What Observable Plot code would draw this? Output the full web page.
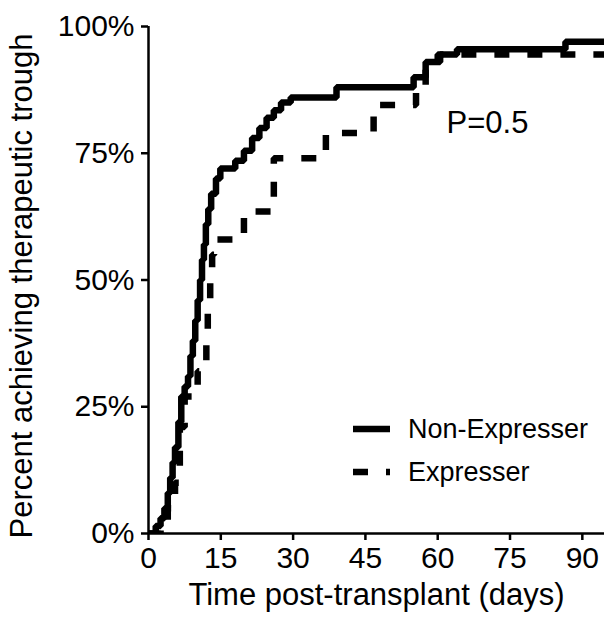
<!DOCTYPE html>
<html><head><meta charset="utf-8">
<script src="https://cdn.jsdelivr.net/npm/d3@7"></script>
<script src="https://cdn.jsdelivr.net/npm/@observablehq/plot@0.6"></script>
<style>
html,body{margin:0;padding:0;background:#fff;}
#chart svg{display:block;}
#chart g[aria-label="x-axis tick"] path, #chart g[aria-label="y-axis tick"] path {stroke-width:2.5px;}
</style></head><body><div id="chart"></div>
<script>
const seriesNames = ["Non-Expresser", "Expresser"];
const nonExpTime = [0,1.5,2.5,3.3,4,4.5,5,5.5,6.2,6.8,7.5,8.2,8.7,9.2,9.7,10.2,10.7,11.1,11.5,11.9,12.4,13,14,14.9,18,19.8,21.5,23,24.5,26,27.5,29.5,39,55,57.5,60.5,64,86.5,95];
const nonExpPct  = [0,1.5,3,5,8,11,14,17,22,27,29,31,35,38,42,46,50,54,57,61,64,67,70,72,73.5,75.5,78,80,82,83.5,85,86,88,90,93,94.5,95.5,97,97];
const expTime = [0,2.5,4,5.5,6.5,7.5,10.2,12,12.3,12.8,13.2,13.6,19.8,26,36.8,46.7,55.5,57.5,60,95];
const expPct  = [0,2,5,10,21,27,32,38,44,50,55,58,63.5,74,79,84.5,88,92,94.5,94.5];
const xTicks = [0,15,30,45,60,75,90];
const yTicks = [0,25,50,75,100];
const xTitle = "Time post-transplant (days)";
const yTitle = "Percent achieving therapeutic trough";
const pLabel = "P=0.5";

const nonExp = nonExpTime.map((t,i)=>({t, p: nonExpPct[i]}));
const exp = expTime.map((t,i)=>({t, p: expPct[i]}));

const plot = Plot.plot({
  width: 604, height: 617,
  marginLeft: 148, marginRight: 0, marginTop: 26, marginBottom: 84,
  style: {fontFamily: "'Liberation Sans', Arial, sans-serif", fontSize: "30px", color: "#000", background: "#fff", overflow: "visible"},
  x: {domain: [0, 94.6], ticks: xTicks, tickSize: 7, tickPadding: 6, label: null},
  y: {domain: [0, 100], ticks: yTicks, tickSize: 7, tickPadding: 7, tickFormat: d => d + "%", label: null},
  marks: [
    Plot.line(exp, {x: "t", y: "p", curve: "step-after", stroke: "#000", strokeWidth: 6.5, strokeDasharray: "15,18", strokeLinecap: "butt", strokeLinejoin: "miter", clip: true}),
    Plot.line(nonExp, {x: "t", y: "p", curve: "step-after", stroke: "#000", strokeWidth: 6.5, strokeLinecap: "butt", strokeLinejoin: "miter", clip: true}),
    Plot.ruleX([0], {strokeWidth: 2.5}),
    Plot.ruleY([0], {strokeWidth: 2.5}),
    Plot.text([pLabel], {frameAnchor: "top-left", dx: 298, dy: 97, textAnchor: "start", lineAnchor: "middle", fontSize: 31}),
    Plot.text([yTitle], {frameAnchor: "left", rotate: -90, dx: -126, dy: 6, textAnchor: "middle", lineAnchor: "middle", fontSize: 31}),
    Plot.text([xTitle], {frameAnchor: "bottom", dy: 62, textAnchor: "middle", lineAnchor: "middle", fontSize: 31})
  ]
});
document.getElementById("chart").appendChild(plot);

// legend
const svg = d3.select(plot);
const lg = svg.append("g").attr("aria-label", "legend").attr("text-anchor", "start");
const legendStyles = ["none", "15,18"];
seriesNames.forEach((name, i) => {
  const y = 429 + i * 43;
  lg.append("line").attr("x1", 353).attr("x2", 390).attr("y1", y).attr("y2", y)
    .attr("stroke", "#000").attr("stroke-width", 6.5).attr("stroke-dasharray", legendStyles[i]);
  lg.append("text").attr("x", 408).attr("y", y).attr("dy", "0.35em")
    .attr("font-size", 27).attr("fill", "#000").text(name);
});
</script></body></html>
